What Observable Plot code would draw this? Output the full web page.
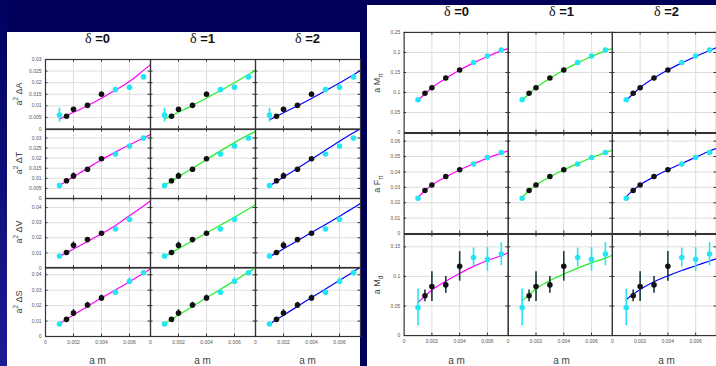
<!DOCTYPE html>
<html><head><meta charset="utf-8">
<script src="https://cdn.jsdelivr.net/npm/d3@7"></script>
<script src="https://cdn.jsdelivr.net/npm/@observablehq/plot@0.6"></script>
<style>
html,body{margin:0;padding:0;width:716px;height:366px;overflow:hidden;}
body{position:relative;background:#00005a;font-family:"Liberation Sans",Arial,sans-serif;}
#strip{position:absolute;left:0;top:0;width:8px;height:366px;background:linear-gradient(to bottom,#00005e,#1c1c96);}
.panel{position:absolute;background:#fff;}
.abs{position:absolute;white-space:nowrap;}
.title{transform:translate(-50%,-50%);font-size:13px;font-weight:bold;color:#111;}
.title .d{font-family:"Liberation Serif","DejaVu Serif",serif;font-weight:normal;font-size:14px;}
.ylab{transform:translate(-50%,-50%) rotate(-90deg);font-size:9px;color:#444;}
.ylab sup,.ylab sub{font-size:6.5px;}
.xlab{transform:translate(-50%,-50%);font-size:10px;color:#444;}
.row{position:absolute;}
</style></head>
<body>
<div id="strip"></div>
<div class="panel" style="left:7px;top:32px;width:353px;height:334px"></div>
<div class="panel" style="left:367px;top:5px;width:349px;height:361px"></div>
<script>
// ---------- data ----------
const amX = [0.001, 0.0015, 0.002, 0.003, 0.004, 0.005, 0.006, 0.007];
const pointType = ["cyan", "black", "black", "black", "black", "cyan", "cyan", "cyan"];
const deltas = [0, 1, 2];
const deltaLabels = ["0", "1", "2"];
const fitX = [0.001, 0.0015, 0.002, 0.003, 0.004, 0.005, 0.006, 0.007, 0.0075];
const xTicks = [0, 0.002, 0.004, 0.006];
const xTickLabels = ["0", "0.002", "0.004", "0.006"];

// left panel
const dA = [0.0060, 0.0055, 0.0085, 0.0102, 0.0150, 0.0170, 0.0180, 0.0225];
const dAerr = [0.0030, 0.0004, 0.0008, 0.0004, 0.0010, 0.0004, 0.0004, 0.0004];
const dAfit0 = [0.0042, 0.0057, 0.0072, 0.0100, 0.0133, 0.0168, 0.0205, 0.0253, 0.0278];
const dAfit1 = [0.0043, 0.0057, 0.0072, 0.0102, 0.0134, 0.0166, 0.0200, 0.0235, 0.0253];
const dAfit2 = [0.0040, 0.0055, 0.0070, 0.0100, 0.0132, 0.0165, 0.0199, 0.0234, 0.0252];
const dAticks = [0, 0.005, 0.01, 0.015, 0.02, 0.025, 0.03];

const dT = [0.0064, 0.0088, 0.0112, 0.0145, 0.0197, 0.0220, 0.0260, 0.0300];
const dTerr = [0.0004, 0.0006, 0.0015, 0.0008, 0.0006, 0.0004, 0.0004, 0.0004];
const dTfit0 = [0.0064, 0.0087, 0.0108, 0.0150, 0.0192, 0.0230, 0.0266, 0.0300, 0.0318];
const dTfit1 = [0.0064, 0.0087, 0.0108, 0.0150, 0.0193, 0.0236, 0.0277, 0.0316, 0.0332];
const dTfit2 = [0.0062, 0.0084, 0.0106, 0.0150, 0.0194, 0.0239, 0.0284, 0.0326, 0.0345];
const dTticks = [0, 0.005, 0.01, 0.015, 0.02, 0.025, 0.03];

const dV = [0.0079, 0.0103, 0.0150, 0.0188, 0.0230, 0.0258, 0.0323, null];
const dVerr = [0.0005, 0.0008, 0.0022, 0.0008, 0.0008, 0.0005, 0.0008, 0];
const dVfit0 = [0.0076, 0.0101, 0.0126, 0.0176, 0.0226, 0.0282, 0.0346, 0.0410, 0.0444];
const dVfit1 = [0.0076, 0.0102, 0.0128, 0.0180, 0.0232, 0.0284, 0.0336, 0.0390, 0.0420];
const dVfit2 = [0.0074, 0.0100, 0.0127, 0.0181, 0.0235, 0.0288, 0.0342, 0.0398, 0.0428];
const dVticks = [0, 0.01, 0.02, 0.03, 0.04];

const dS = [0.0081, 0.0111, 0.0152, 0.0204, 0.0250, 0.0287, 0.0358, 0.0413];
const dSerr = [0.0005, 0.0008, 0.0022, 0.0018, 0.0018, 0.0006, 0.0022, 0.0008];
const dSfit0 = [0.0082, 0.0111, 0.0140, 0.0195, 0.0250, 0.0302, 0.0355, 0.0410, 0.0439];
const dSfit1 = [0.0082, 0.0111, 0.0139, 0.0195, 0.0251, 0.0306, 0.0361, 0.0417, 0.0445];
const dSfit2 = [0.0080, 0.0109, 0.0138, 0.0195, 0.0252, 0.0308, 0.0364, 0.0420, 0.0450];
const dSticks = [0, 0.01, 0.02, 0.03, 0.04];

// right panel
const Mpi = [0.082, 0.098, 0.112, 0.136, 0.156, 0.175, 0.191, 0.206];
const MpiErr = [0.001, 0.001, 0.001, 0.001, 0.001, 0.001, 0.001, 0.001];
const MpiFit0 = [0.080, 0.097, 0.112, 0.135, 0.156, 0.174, 0.190, 0.204, 0.210];
const MpiFit1 = [0.080, 0.097, 0.112, 0.135, 0.156, 0.174, 0.190, 0.204, 0.210];
const MpiFit2 = [0.080, 0.097, 0.112, 0.136, 0.156, 0.174, 0.190, 0.205, 0.212];
const MpiTicks = [0, 0.05, 0.1, 0.15, 0.2, 0.25];

const Fpi = [0.0229, 0.0280, 0.0315, 0.0370, 0.0414, 0.0451, 0.0494, 0.0526];
const FpiErr = [0.0003, 0.0003, 0.0003, 0.0003, 0.0003, 0.0003, 0.0003, 0.0003];
const FpiFit0 = [0.0235, 0.0280, 0.0315, 0.0368, 0.0413, 0.0453, 0.0490, 0.0522, 0.0537];
const FpiFit1 = [0.0235, 0.0280, 0.0315, 0.0368, 0.0414, 0.0454, 0.0492, 0.0525, 0.0540];
const FpiFit2 = [0.0240, 0.0282, 0.0316, 0.0368, 0.0414, 0.0455, 0.0495, 0.0536, 0.0552];
const FpiTicks = [0, 0.01, 0.02, 0.03, 0.04, 0.05, 0.06];

const Md = [0.0476, 0.0672, 0.0828, 0.0857, 0.1170, 0.1320, 0.1288, 0.1377];
const MdErr = [0.031, 0.010, 0.025, 0.0143, 0.025, 0.016, 0.020, 0.0196];
const MdFit0 = [0.056, 0.067, 0.077, 0.092, 0.105, 0.117, 0.127, 0.135, 0.140];
const MdFit1 = [0.059, 0.069, 0.079, 0.093, 0.104, 0.114, 0.123, 0.131, 0.136];
const MdFit2 = [0.061, 0.070, 0.078, 0.091, 0.101, 0.110, 0.118, 0.126, 0.130];
const MdTicks = [0, 0.05, 0.1, 0.15];

// ---------- styling / layout ----------
const fitColors = ["#ff00ff", "#22ee22", "#0000ff"];
const cyan = "#22e6f2";

const rows = [
  {vals: dA, errs: dAerr, fits: [dAfit0, dAfit1, dAfit2], ticks: dAticks, dom: [0, 0.03], left: 0, top: 59, h: 69.5, label: 'a<sup>2</sup> ΔA', lx: 18},
  {vals: dT, errs: dTerr, fits: [dTfit0, dTfit1, dTfit2], ticks: dTticks, dom: [0, 0.0342], left: 0, top: 128.5, h: 69, label: 'a<sup>2</sup> ΔT', lx: 18},
  {vals: dV, errs: dVerr, fits: [dVfit0, dVfit1, dVfit2], ticks: dVticks, dom: [0, 0.046], left: 0, top: 197.5, h: 69.5, label: 'a<sup>2</sup> ΔV', lx: 18},
  {vals: dS, errs: dSerr, fits: [dSfit0, dSfit1, dSfit2], ticks: dSticks, dom: [0, 0.0447], left: 0, top: 267, h: 69, label: 'a<sup>2</sup> ΔS', lx: 18, bottom: true},
  {vals: Mpi, errs: MpiErr, fits: [MpiFit0, MpiFit1, MpiFit2], ticks: MpiTicks, dom: [0, 0.25], left: 359, top: 32, h: 101, label: 'a M<sub>π</sub>', lx: 378},
  {vals: Fpi, errs: FpiErr, fits: [FpiFit0, FpiFit1, FpiFit2], ticks: FpiTicks, dom: [0, 0.065], left: 359, top: 133, h: 101, label: 'a F<sub>π</sub>', lx: 378},
  {vals: Md, errs: MdErr, fits: [MdFit0, MdFit1, MdFit2], ticks: MdTicks, dom: [0, 0.171], left: 359, top: 234, h: 102, label: 'a M<sub>d</sub>', lx: 378, bottom: true}
];

function makeRow(r) {
  const mt = 8, mb = r.bottom ? 16 : 4;
  const pts = [];
  for (const d of deltas) r.vals.forEach((v, i) => {
    if (v != null) pts.push({delta: d, x: amX[i], y: v, lo: v - r.errs[i], hi: v + r.errs[i], t: pointType[i]});
  });
  const cy = pts.filter(p => p.t === "cyan"), bk = pts.filter(p => p.t === "black");
  const inner = 105 - 2.5, innerH = r.h - 2.5;
  const marks = [
    Plot.gridX(xTicks.slice(1), {stroke: "#dedede", strokeOpacity: 1, strokeWidth: 1}),
    Plot.gridY(r.ticks.slice(1), {stroke: "#dedede", strokeOpacity: 1, strokeWidth: 1}),
    // small inward tick marks on the frame edges
    Plot.ruleX(xTicks.slice(1), {x: d => d, insetTop: innerH, stroke: "#333"}),
    Plot.ruleX(xTicks.slice(1), {x: d => d, insetBottom: innerH, stroke: "#333"}),
    Plot.ruleY(r.ticks.slice(1), {y: d => d, insetLeft: inner, stroke: "#333"}),
    Plot.ruleY(r.ticks.slice(1), {y: d => d, insetRight: inner, stroke: "#333"}),
    ...deltas.map(d => Plot.line(fitX.map((x, j) => ({delta: d, x, y: r.fits[d][j]})),
      {x: "x", y: "y", fx: "delta", stroke: fitColors[d], strokeWidth: 1.2, curve: "monotone-x", clip: true})),
    Plot.ruleX(cy, {x: "x", y1: "lo", y2: "hi", fx: "delta", stroke: cyan, strokeWidth: 1.6}),
    Plot.ruleX(bk, {x: "x", y1: "lo", y2: "hi", fx: "delta", stroke: "#123a3a", strokeWidth: 1.6}),
    Plot.dot(cy, {x: "x", y: "y", fx: "delta", r: 2.8, fill: cyan}),
    Plot.dot(bk, {x: "x", y: "y", fx: "delta", r: 2.8, fill: "#111"}),
    Plot.frame({stroke: "#333", strokeWidth: 1.2}),
    Plot.axisY(r.ticks, {tickSize: 0, tickPadding: 4, fontSize: 5, fill: "#555", tickFormat: d => String(d), label: null})
  ];
  if (r.bottom) marks.push(Plot.axisX(xTicks, {tickSize: 0, tickPadding: 4, fontSize: 5, fill: "#555",
    tickFormat: d => xTickLabels[xTicks.indexOf(d)], label: null}));
  const svg = Plot.plot({
    width: 45 + 315, height: r.h + mt + mb,
    marginLeft: 45, marginRight: 0, marginTop: mt, marginBottom: mb,
    style: {background: "transparent", overflow: "visible", fontFamily: "Liberation Sans, Arial, sans-serif"},
    x: {domain: [0, 0.0075], axis: null},
    y: {domain: r.dom, axis: null},
    fx: {domain: deltas, padding: 0, axis: null},
    marks
  });
  const wrap = document.createElement("div");
  wrap.className = "row";
  wrap.style.left = r.left + "px";
  wrap.style.top = (r.top - mt) + "px";
  wrap.appendChild(svg);
  document.body.appendChild(wrap);

  const lab = document.createElement("div");
  lab.className = "abs ylab";
  lab.style.left = r.lx + "px";
  lab.style.top = (r.top + r.h / 2) + "px";
  lab.innerHTML = r.label;
  document.body.appendChild(lab);
}
rows.forEach(makeRow);

function addText(cls, x, y, html) {
  const el = document.createElement("div");
  el.className = "abs " + cls;
  el.style.left = x + "px";
  el.style.top = y + "px";
  el.innerHTML = html;
  document.body.appendChild(el);
}
const panels = [{x0: 45, ty: 39}, {x0: 404, ty: 12}];
for (const p of panels) {
  deltas.forEach((d, i) => {
    const cx = p.x0 + 52.5 + i * 105;
    addText("title", cx, p.ty, '<span class="d">δ</span> =' + deltaLabels[i]);
    addText("xlab", cx, 360, "a m");
  });
}
</script>
</body></html>
